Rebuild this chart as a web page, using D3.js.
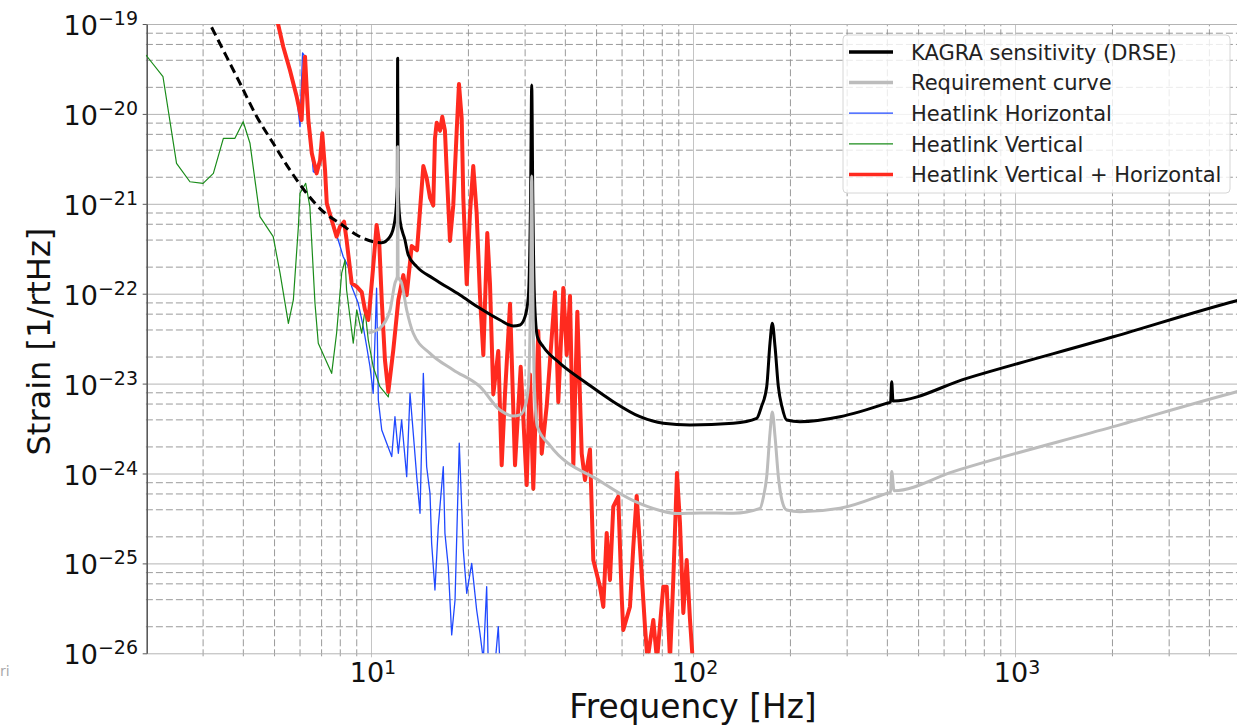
<!DOCTYPE html>
<html>
<head>
<meta charset="utf-8">
<script src="https://cdn.jsdelivr.net/npm/d3@7"></script>
<style>
  body { margin: 0; background: #fff; }
  svg { display: block; font-family: "DejaVu Sans", sans-serif; }
</style>
</head>
<body>
<svg id="chart" width="1237" height="726"></svg>
<script>
// ---------------- DATA ----------------
const legendLabels = ["KAGRA sensitivity (DRSE)", "Requirement curve", "Heatlink Horizontal", "Heatlink Vertical", "Heatlink Vertical + Horizontal"];
const xAxisTitle = "Frequency [Hz]";
const yAxisTitle = "Strain [1/rtHz]";
const xTickExponents = [1, 2, 3];
const yTickExponents = [-26, -25, -24, -23, -22, -21, -20, -19];

// KAGRA sensitivity, low-frequency part (dashed)
const kagraLowFreq = [3.20, 3.56, 3.92, 4.42, 4.97, 5.60, 6.31, 7.11, 8.01, 9.03, 10.16, 10.5];
const kagraLowStrain = [9.19e-20, 4.33e-20, 2.19e-20, 9.31e-21, 4.71e-21, 2.38e-21, 1.31e-21, 8.17e-22, 6.07e-22, 4.50e-22, 3.79e-22, 3.72e-22];

// KAGRA sensitivity (solid)
const kagraFreq = [10.5, 10.80, 11.46, 11.87, 12.07, 12.10, 12.14, 12.30, 12.75, 13.06, 13.87, 15.61, 18.90, 21.80, 25.15, 27.67, 29.03, 30.09, 30.81, 31.30, 31.56, 31.81, 32.20, 32.89, 34.28, 38.64, 46.75, 56.55, 68.45, 80.86, 97.88, 133.4, 157.7, 163.0, 169.4, 173.4, 176.3, 179.8, 184.1, 189.0, 195.4, 214.9, 286.1, 399.6, 410.6, 414.1, 417.9, 708, 2020, 4881, 5000];
const kagraStrain = [3.72e-22, 3.69e-22, 4.31e-22, 6.61e-22, 1.55e-21, 4.15e-20, 1.55e-21, 6.61e-22, 3.96e-22, 2.69e-22, 2.00e-22, 1.48e-22, 9.67e-23, 6.88e-23, 5.10e-23, 4.37e-23, 4.49e-23, 5.55e-23, 9.26e-23, 1.10e-21, 2.10e-20, 1.10e-21, 8.51e-23, 3.30e-23, 2.57e-23, 1.68e-23, 1.01e-23, 6.29e-24, 4.28e-24, 3.62e-24, 3.46e-24, 3.62e-24, 4.11e-24, 5.5e-24, 9.24e-24, 2.81e-23, 4.68e-23, 2.57e-23, 9.24e-24, 5.5e-24, 3.94e-24, 3.77e-24, 4.28e-24, 6.04e-24, 6.24e-24, 1.05e-23, 6.40e-24, 1.145e-23, 3.32e-23, 8.36e-23, 8.55e-23];

// Requirement curve
const reqFreq = [9.79, 10.66, 11.46, 11.87, 12.07, 12.10, 12.14, 12.45, 12.91, 13.53, 15.25, 18.01, 21.80, 25.15, 27.67, 29.03, 30.09, 30.81, 31.30, 31.56, 31.81, 32.20, 32.89, 35.96, 51.42, 65.25, 78.98, 89.0, 105.1, 133.4, 161.5, 165.5, 169.4, 173.4, 176.3, 179.8, 184.1, 189.0, 195.4, 214.9, 286.1, 399.6, 410.6, 414.1, 421.0, 643.2, 2020, 4881, 5000];
const reqStrain = [3.66e-23, 4.15e-23, 6.59e-23, 1.31e-22, 1.55e-22, 4.32e-21, 1.55e-22, 1.31e-22, 6.59e-23, 3.63e-23, 2.17e-23, 1.42e-23, 9.24e-24, 5.08e-24, 4.36e-24, 4.49e-24, 5.55e-24, 9.26e-24, 1.10e-22, 2.04e-21, 1.10e-22, 8.51e-24, 3.30e-24, 2.05e-24, 8.25e-25, 4.99e-25, 3.88e-25, 3.59e-25, 3.64e-25, 3.62e-25, 4.10e-25, 5.5e-25, 9.24e-25, 2.81e-24, 4.83e-24, 2.57e-24, 9.24e-25, 5.0e-25, 3.93e-25, 3.76e-25, 4.10e-25, 6.02e-25, 6.23e-25, 1.05e-24, 6.44e-25, 1.05e-24, 3.32e-24, 8.13e-24, 8.32e-24];

// Heatlink Horizontal
const horizFreq = [5.07, 5.34, 5.60, 5.88, 6.02, 6.13, 6.24, 6.31, 6.39, 6.55, 6.62, 6.78, 6.95, 7.06, 7.20, 7.29, 7.55, 7.91, 8.20, 8.50, 8.71, 9.13, 9.46, 9.70, 9.93, 10.16, 10.41, 10.54, 10.80, 11.19, 11.60, 11.87, 12.16, 12.45, 12.91, 13.22, 13.53, 13.87, 14.20, 14.54, 14.89, 15.25, 15.43, 15.80, 16.18, 16.77, 16.97, 17.38, 17.81, 18.24, 18.80, 19.35, 19.83, 20.55, 21.29, 21.80, 22.33, 22.87, 23.13, 23.9, 24.85, 25.15];
const horizStrain = [1.26e-19, 5.59e-20, 3.08e-20, 1.55e-20, 7.21e-21, 4.76e-20, 4.33e-20, 2.01e-20, 8.55e-21, 3.65e-21, 2.28e-21, 2.18e-21, 3.07e-21, 6.08e-21, 2.38e-21, 1.01e-21, 6.61e-22, 3.96e-22, 2.58e-22, 2.00e-22, 1.20e-22, 7.82e-23, 4.30e-23, 2.57e-23, 1.54e-23, 7.80e-24, 1.15e-22, 6.57e-24, 3.05e-24, 2.17e-24, 1.54e-24, 4.28e-24, 1.68e-24, 3.94e-24, 9.21e-25, 7.80e-24, 2.80e-24, 9.21e-25, 3.61e-25, 1.30e-23, 1.19e-24, 6.02e-25, 1.67e-25, 5.06e-26, 2.56e-25, 1.19e-24, 2.16e-25, 9.19e-26, 1.60e-26, 3.92e-26, 2.17e-24, 1.41e-25, 4.65e-26, 1.00e-25, 3.03e-26, 1.67e-26, 8.42e-27, 5.51e-26, 7.4e-27, 3.9e-27, 1.98e-26, 7.4e-27];

// Heatlink Vertical
const vertFreq = [2.0, 2.26, 2.49, 2.74, 3.01, 3.24, 3.48, 3.78, 4.01, 4.21, 4.52, 4.97, 5.22, 5.54, 5.74, 5.95, 6.02, 6.27, 6.46, 6.70, 6.86, 7.55, 7.82, 8.11, 8.31, 8.40, 8.81, 9.03, 9.36, 9.58, 9.81, 10.16, 10.66, 11.32,
  11.73, 12.16, 12.60, 12.91, 13.38, 13.90, 14.20, 14.54, 14.89, 15.25, 15.61, 15.80, 16.00, 16.38, 16.65, 16.97, 17.18, 17.59, 18.01, 18.46, 18.76, 19.13, 19.35, 19.83, 20.30, 20.78, 21.29, 21.80, 22.33, 22.97, 23.42, 23.98, 24.85, 25.46, 26.07, 27.03, 28.01, 29.17, 30.45, 31.17, 31.92, 33.08, 33.90, 35.13, 37.28, 38.17, 39.56, 40.54, 41.50, 42.50, 43.73, 45.12, 46.20, 47.87, 49.02, 51.42, 52.66, 53.95, 55.23, 56.55, 58.61, 60.06, 60.74, 63.72, 65.25, 66.85, 68.45, 70.94, 72.22, 75.28, 77.30, 80.86, 82.85, 84.83, 86.85, 89.17, 91.11, 93.31, 95.59, 97.88, 99.8];
const vertStrain = [4.52e-20, 2.59e-20, 2.82e-21, 1.76e-21, 1.69e-21, 2.18e-21, 5.35e-21, 5.35e-21, 8.19e-21, 4.71e-21, 7.19e-22, 4.31e-22, 1.69e-22, 4.68e-23, 8.51e-23, 5.56e-22, 1.31e-21, 1.69e-21, 9.28e-22, 7.82e-23, 2.81e-23, 1.30e-23, 3.63e-23, 1.69e-22, 2.37e-22, 1.10e-22, 2.81e-23, 6.59e-23, 3.63e-23, 6.59e-23, 3.05e-23, 1.54e-23, 9.24e-24, 7.10e-24,
  2.27e-23, 8.17e-23, 1.55e-22, 9.28e-23, 3.25e-22, 2.94e-22, 8.19e-22, 2.52e-21, 1.86e-21, 1.12e-21, 9.22e-22, 5.13e-21, 7.66e-21, 6.26e-21, 8.91e-21, 6.26e-21, 2.28e-21, 3.72e-22, 9.22e-22, 6.26e-21, 2.06e-20, 8.49e-21, 1.12e-21, 1.23e-22, 7.55e-22, 2.52e-21, 7.55e-22, 9.05e-23, 2.00e-23, 4.54e-22, 1.23e-22, 7.30e-24, 2.21e-23, 1.19e-24, 7.35e-24, 7.41e-23, 1.19e-24, 1.48e-23, 7.17e-25, 1.21e-23, 6.49e-25, 3.67e-23, 1.60e-24, 5.40e-24, 9.98e-23, 5.99e-24, 1.11e-22, 2.00e-23, 9.05e-23, 1.19e-24, 6.06e-23, 1.60e-24, 8.13e-25, 1.78e-24, 1.05e-25, 5.29e-26, 3.17e-26, 2.09e-25, 6.28e-26, 4.10e-25, 5.30e-25, 4.09e-26, 1.75e-26, 3.17e-26, 1.47e-25, 5.40e-25, 1.47e-25, 1.90e-26, 8.08e-27, 2.26e-26, 8.08e-27, 5.29e-26, 5.29e-26, 8.08e-27, 6.28e-26, 9.70e-25, 2.70e-25, 2.70e-26, 1.05e-25, 2.26e-26, 8.08e-27];

// Heatlink Vertical + Horizontal
const sumFreq = [5.07, 5.34, 5.60, 5.88, 6.09, 6.16, 6.24, 6.31, 6.39, 6.55, 6.78, 6.95, 7.06, 7.20, 7.29, 7.55, 7.82, 8.01, 8.25, 8.40, 8.71, 9.03, 9.36, 9.58, 9.81, 9.93, 10.16, 10.41, 10.61, 10.80, 11.05, 11.32, 11.73, 12.16, 12.60, 12.91, 13.38, 13.90, 14.20, 14.54, 14.89, 15.25, 15.61, 15.80, 16.00, 16.38, 16.65, 16.97, 17.18, 17.59, 18.01, 18.46, 18.76, 19.13, 19.35, 19.83, 20.30, 20.78, 21.29, 21.80, 22.33, 22.97, 23.42, 23.98, 24.85, 25.46, 26.07, 27.03, 28.01, 29.17, 30.45, 31.17, 31.92, 33.08, 33.90, 35.13, 37.28, 38.17, 39.56, 40.54, 41.50, 42.50, 43.73, 45.12, 46.20, 47.87, 49.02, 51.42, 52.66, 53.95, 55.23, 56.55, 58.61, 60.06, 60.74, 63.72, 65.25, 66.85, 68.45, 70.94, 72.22, 75.28, 77.30, 80.86, 82.85, 84.83, 86.85, 89.17, 91.11, 93.31, 95.59, 97.88, 99.8];
const sumStrain = [1.26e-19, 5.59e-20, 3.08e-20, 1.55e-20, 8.55e-21, 2.01e-20, 4.33e-20, 2.01e-20, 8.55e-21, 3.65e-21, 2.18e-21, 3.07e-21, 6.08e-21, 2.38e-21, 1.01e-21, 6.61e-22, 4.31e-22, 5.56e-22, 6.32e-22, 3.96e-22, 1.31e-22, 1.20e-22, 1.04e-22, 6.59e-23, 5.10e-23, 7.82e-23, 2.00e-22, 5.81e-22, 3.64e-22, 8.51e-23, 1.83e-23, 8.13e-24, 2.36e-23, 8.51e-23, 1.61e-22, 9.67e-23, 3.39e-22, 3.06e-22, 8.53e-22, 2.63e-21, 1.94e-21, 1.17e-21, 9.60e-22, 5.34e-21, 7.98e-21, 6.52e-21, 9.28e-21, 6.52e-21, 2.38e-21, 3.88e-22, 9.60e-22, 6.52e-21, 2.15e-20, 8.84e-21, 1.17e-21, 1.28e-22, 7.86e-22, 2.63e-21, 7.86e-22, 9.43e-23, 2.08e-23, 4.73e-22, 1.28e-22, 7.60e-24, 2.30e-23, 1.24e-24, 7.66e-24, 7.72e-23, 1.24e-24, 1.54e-23, 7.47e-25, 1.26e-23, 6.76e-25, 3.82e-23, 1.67e-24, 5.63e-24, 1.04e-22, 6.24e-24, 1.16e-22, 2.08e-23, 9.43e-23, 1.24e-24, 6.31e-23, 1.67e-24, 8.47e-25, 1.85e-24, 1.09e-25, 5.51e-26, 3.30e-26, 2.18e-25, 6.54e-26, 4.27e-25, 5.52e-25, 4.26e-26, 1.82e-26, 3.30e-26, 1.53e-25, 5.62e-25, 1.53e-25, 1.98e-26, 8.42e-27, 2.35e-26, 8.42e-27, 5.51e-26, 5.51e-26, 8.42e-27, 6.54e-26, 1.01e-24, 2.81e-25, 2.81e-26, 1.09e-25, 2.35e-26, 8.42e-27];

// ---------------- CHART ----------------
const svg = d3.select("#chart");
const plotLeft = 145.9, plotRight = 1240.1, plotTop = 24, plotBottom = 653.3;

const x = d3.scaleLog().domain([2, 5000]).range([plotLeft, plotRight]);
const y = d3.scaleLog().domain([1e-26, 1e-19]).range([plotBottom, plotTop]);

const pow10 = e => Number("1e" + e);
const xMajor = xTickExponents.map(pow10);
const xMinor = [];
[0, 1, 2, 3].forEach(e => { for (let k = 2; k <= 9; k++) { const v = k * pow10(e); if (v > 2 && v <= 5000) xMinor.push(v); } });
const yMajor = yTickExponents.map(pow10);
const yMinor = [];
yTickExponents.slice(0, -1).forEach(e => { [2, 4, 6, 8].forEach(k => yMinor.push(k * pow10(e))); });

svg.append("defs").append("clipPath").attr("id", "plotClip")
  .append("rect").attr("x", plotLeft).attr("y", plotTop).attr("width", plotRight - plotLeft).attr("height", plotBottom - plotTop);

// grid: major solid, minor dashed
const grid = svg.append("g");
grid.append("g").attr("transform", `translate(0,${plotBottom})`)
  .call(d3.axisBottom(x).tickValues(xMajor).tickSize(-(plotBottom - plotTop) - 4).tickFormat(""))
  .call(g => g.select(".domain").remove())
  .call(g => g.selectAll("line").attr("stroke", "#c4c4c4").attr("stroke-width", 1).attr("transform", "translate(0,4)"));
grid.append("g").attr("transform", `translate(0,${plotBottom})`)
  .call(d3.axisBottom(x).tickValues(xMinor).tickSize(-(plotBottom - plotTop) - 3).tickFormat(""))
  .call(g => g.select(".domain").remove())
  .call(g => g.selectAll("line").attr("stroke", "#8f8f8f").attr("stroke-width", 0.9).attr("stroke-dasharray", "7,3").attr("transform", "translate(0,3)"));
grid.append("g").attr("transform", `translate(${plotLeft},0)`)
  .call(d3.axisLeft(y).tickValues(yMajor).tickSize(-(plotRight - plotLeft)).tickFormat(""))
  .call(g => g.select(".domain").remove())
  .call(g => g.selectAll("line").attr("stroke", "#b4b4b4").attr("stroke-width", 1));
grid.append("g").attr("transform", `translate(${plotLeft},0)`)
  .call(d3.axisLeft(y).tickValues(yMinor).tickSize(-(plotRight - plotLeft)).tickFormat(""))
  .call(g => g.select(".domain").remove())
  .call(g => g.selectAll("line").attr("stroke", "#8f8f8f").attr("stroke-width", 0.9).attr("stroke-dasharray", "7,3"));

// left spine with ticks
svg.append("g").attr("transform", `translate(${plotLeft + 0.8},0)`)
  .call(d3.axisLeft(y).tickValues(yMajor).tickSize(4).tickSizeOuter(0).tickFormat(""))
  .call(g => g.select(".domain").attr("stroke", "#5a5a5a").attr("stroke-width", 1.6))
  .call(g => g.selectAll(".tick line").attr("stroke", "#5a5a5a"));

// lines
const line = d3.line().x(d => x(d[0])).y(d => y(d[1]));
const smoothLine = d3.line().x(d => x(d[0])).y(d => y(d[1])).curve(d3.curveMonotoneX);
const zip = (a, b) => a.map((v, i) => [v, b[i]]);
const plot = svg.append("g").attr("clip-path", "url(#plotClip)");

plot.append("path").datum(zip(horizFreq, horizStrain)).attr("d", line)
  .attr("fill", "none").attr("stroke", "#1f48ff").attr("stroke-width", 1.3).attr("stroke-linejoin", "round");
plot.append("path").datum(zip(vertFreq, vertStrain)).attr("d", line)
  .attr("fill", "none").attr("stroke", "#1a8c1a").attr("stroke-width", 1.2).attr("stroke-linejoin", "round");
plot.append("path").datum(zip(sumFreq, sumStrain)).attr("d", line)
  .attr("fill", "none").attr("stroke", "#ff2a1f").attr("stroke-width", 4).attr("stroke-linejoin", "round");
plot.append("path").datum(zip(kagraLowFreq, kagraLowStrain)).attr("d", smoothLine)
  .attr("fill", "none").attr("stroke", "#000").attr("stroke-width", 3).attr("stroke-dasharray", "9,5");
plot.append("path").datum(zip(kagraFreq, kagraStrain)).attr("d", smoothLine)
  .attr("fill", "none").attr("stroke", "#000").attr("stroke-width", 3).attr("stroke-linejoin", "round");
plot.append("path").datum(zip(reqFreq, reqStrain)).attr("d", smoothLine)
  .attr("fill", "none").attr("stroke", "#bcbcbc").attr("stroke-width", 3).attr("stroke-linejoin", "round");

// tick labels
const yLab = svg.append("g").attr("fill", "#111");
yTickExponents.forEach(e => {
  const t = yLab.append("text").attr("x", 138).attr("y", y(pow10(e)) + 11).attr("text-anchor", "end");
  t.append("tspan").attr("font-size", 27).text("10");
  t.append("tspan").attr("font-size", 19).attr("dy", -10).text("\u2212" + Math.abs(e));
});
const xLab = svg.append("g").attr("fill", "#111");
xTickExponents.forEach(e => {
  const t = xLab.append("text").attr("x", x(pow10(e)) + 2).attr("y", 682).attr("text-anchor", "middle");
  t.append("tspan").attr("font-size", 27).text("10");
  t.append("tspan").attr("font-size", 19).attr("dy", -8).text(String(e));
});

// axis titles
svg.append("text").attr("x", (plotLeft + plotRight) / 2).attr("y", 718).attr("text-anchor", "middle")
  .attr("font-size", 32.8).attr("fill", "#111").text(xAxisTitle);
svg.append("text").attr("transform", `translate(50,${(plotTop + plotBottom) / 2 + 3}) rotate(-90)`).attr("text-anchor", "middle")
  .attr("font-size", 32).attr("fill", "#111").text(yAxisTitle);

// legend
const legendStyles = [
  { color: "#000", width: 3.5 },
  { color: "#bcbcbc", width: 3.5 },
  { color: "#1f48ff", width: 1.3 },
  { color: "#1a8c1a", width: 1.3 },
  { color: "#ff2a1f", width: 3.5 }
];
const lg = svg.append("g");
lg.append("rect").attr("x", 843).attr("y", 35).attr("width", 387).attr("height", 158).attr("rx", 4)
  .attr("fill", "#fff").attr("fill-opacity", 0.8).attr("stroke", "#d6d6d6").attr("stroke-width", 1);
legendLabels.forEach((lab, i) => {
  const cy = 52 + 30.6 * i;
  lg.append("line").attr("x1", 849).attr("x2", 893).attr("y1", cy).attr("y2", cy)
    .attr("stroke", legendStyles[i].color).attr("stroke-width", legendStyles[i].width);
  lg.append("text").attr("x", 911).attr("y", cy + 7.8).attr("font-size", 21).attr("fill", "#222").text(lab);
});

// stray fragment at bottom-left of the original image
svg.append("text").attr("x", 0).attr("y", 676).attr("font-size", 14).attr("fill", "#aaa").text("ri");
</script>
</body>
</html>
